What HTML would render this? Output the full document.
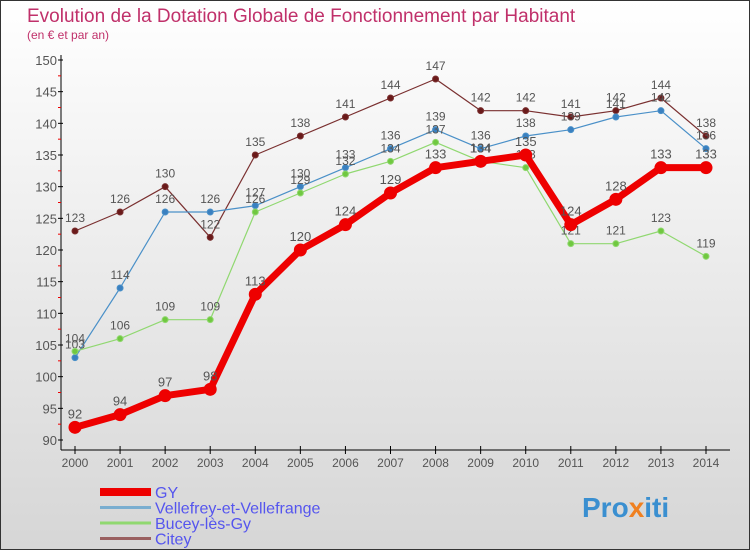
<!DOCTYPE html>
<html><head><meta charset="utf-8"><style>
body{margin:0;width:750px;height:550px;overflow:hidden;font-family:"Liberation Sans",sans-serif}
</style></head><body>
<svg width="750" height="550" xmlns="http://www.w3.org/2000/svg">
<defs><linearGradient id="bg" x1="0" y1="0" x2="0" y2="1"><stop offset="0" stop-color="#ffffff"/><stop offset="1" stop-color="#d6d6d6"/></linearGradient></defs>
<rect x="0.5" y="0.5" width="749" height="549" fill="url(#bg)" stroke="#333"/>
<text x="27" y="22" font-size="19" fill="#c0306a">Evolution de la Dotation Globale de Fonctionnement par Habitant</text>
<text x="27" y="39" font-size="12" fill="#c0306a">(en € et par an)</text>
<g id="axes"></g><g id="series"></g><g id="legend"></g>
<text x="582" y="517" font-size="28" font-weight="bold" fill="#3a8fd0">Pro<tspan fill="#f08020">x</tspan>iti</text>
</svg>
<script>
const years=[2000,2001,2002,2003,2004,2005,2006,2007,2008,2009,2010,2011,2012,2013,2014];
const yTicks=[90,95,100,105,110,115,120,125,130,135,140,145,150];
const gy=[92,94,97,98,113,120,124,129,133,134,135,124,128,133,133];
const vellefrey=[103,114,126,126,127,130,133,136,139,136,138,139,141,142,136];
const bucey=[104,106,109,109,126,129,132,134,137,134,133,121,121,123,119];
const citey=[123,126,130,122,135,138,141,144,147,142,142,141,142,144,138];
const NS="http://www.w3.org/2000/svg";
const X=i=>75+i*(631/14);
const Y=v=>440-(v-90)*(380/60);
function mk(t,a,p){const e=document.createElementNS(NS,t);for(const k in a)e.setAttribute(k,a[k]);p.appendChild(e);return e;}
const ax=document.getElementById('axes');
const yl=mk('line',{x1:61,y1:55,x2:61,y2:450,stroke:'#000'},ax);


const xl=mk('line',{x1:61,y1:450,x2:730,y2:450,stroke:'#000'},ax);


yTicks.forEach((v,i)=>{
 mk('line',{x1:58,y1:Y(v),x2:63,y2:Y(v),stroke:'#000'},ax);
 if(i<yTicks.length-1)mk('line',{x1:58,y1:Y(v+2.5),x2:61,y2:Y(v+2.5),stroke:'#e00'},ax);
 const t=mk('text',{x:57,y:Y(v)+5,'text-anchor':'end','font-size':13,fill:'#555'},ax);
 t.textContent=v;
 
 
});
years.forEach((yr,i)=>{
 mk('line',{x1:X(i),y1:446,x2:X(i),y2:454,stroke:'#000'},ax);
 const t=mk('text',{x:X(i),y:467,'text-anchor':'middle','font-size':12,fill:'#555'},ax);
 t.textContent=yr;
 
 
});
const sg=document.getElementById('series');
function series(d,col,dot,w,r,name,fs){
 const g=mk('g',{},sg);
 
 
 mk('polyline',{points:d.map((v,i)=>X(i)+','+Y(v)).join(' '),fill:'none',stroke:col,'stroke-width':w,'stroke-linejoin':'round'},g);
 d.forEach((v,i)=>{
  const c=mk('circle',{cx:X(i),cy:Y(v),r:r,fill:dot,stroke:col,'stroke-width':1},g);
  
  
  const t=mk('text',{x:X(i),y:Y(v)-9,'text-anchor':'middle','font-size':fs,fill:'#555'},g);
  t.textContent=v;
 });
}
series(citey,'#7a3030','#6a1a1a',1.2,3,'citey-series',12);
series(vellefrey,'#4a90c8','#3a80c0',1.2,3,'vellefrey-series',12);
series(bucey,'#90d870','#70c840',1.2,3,'bucey-series',12);
series(gy,'#ee0000','#ee0000',7,6,'gy-series',13);
const lg=document.getElementById('legend');
const items=[['GY','#ee0000',8],['Vellefrey-et-Vellefrange','#7aaed0',3],['Bucey-lès-Gy','#90d870',3],['Citey','#9a6060',3]];
items.forEach((it,i)=>{
 const y=492+i*15.5;
 const g=mk('g',{},lg);
 
 
 mk('line',{x1:100,y1:y,x2:151,y2:y,stroke:it[1],'stroke-width':it[2]},g);
 const t=mk('text',{x:155,y:y+6,'font-size':16,fill:'#5555ee'},g);
 t.textContent=it[0];
});
</script>
</body></html>
